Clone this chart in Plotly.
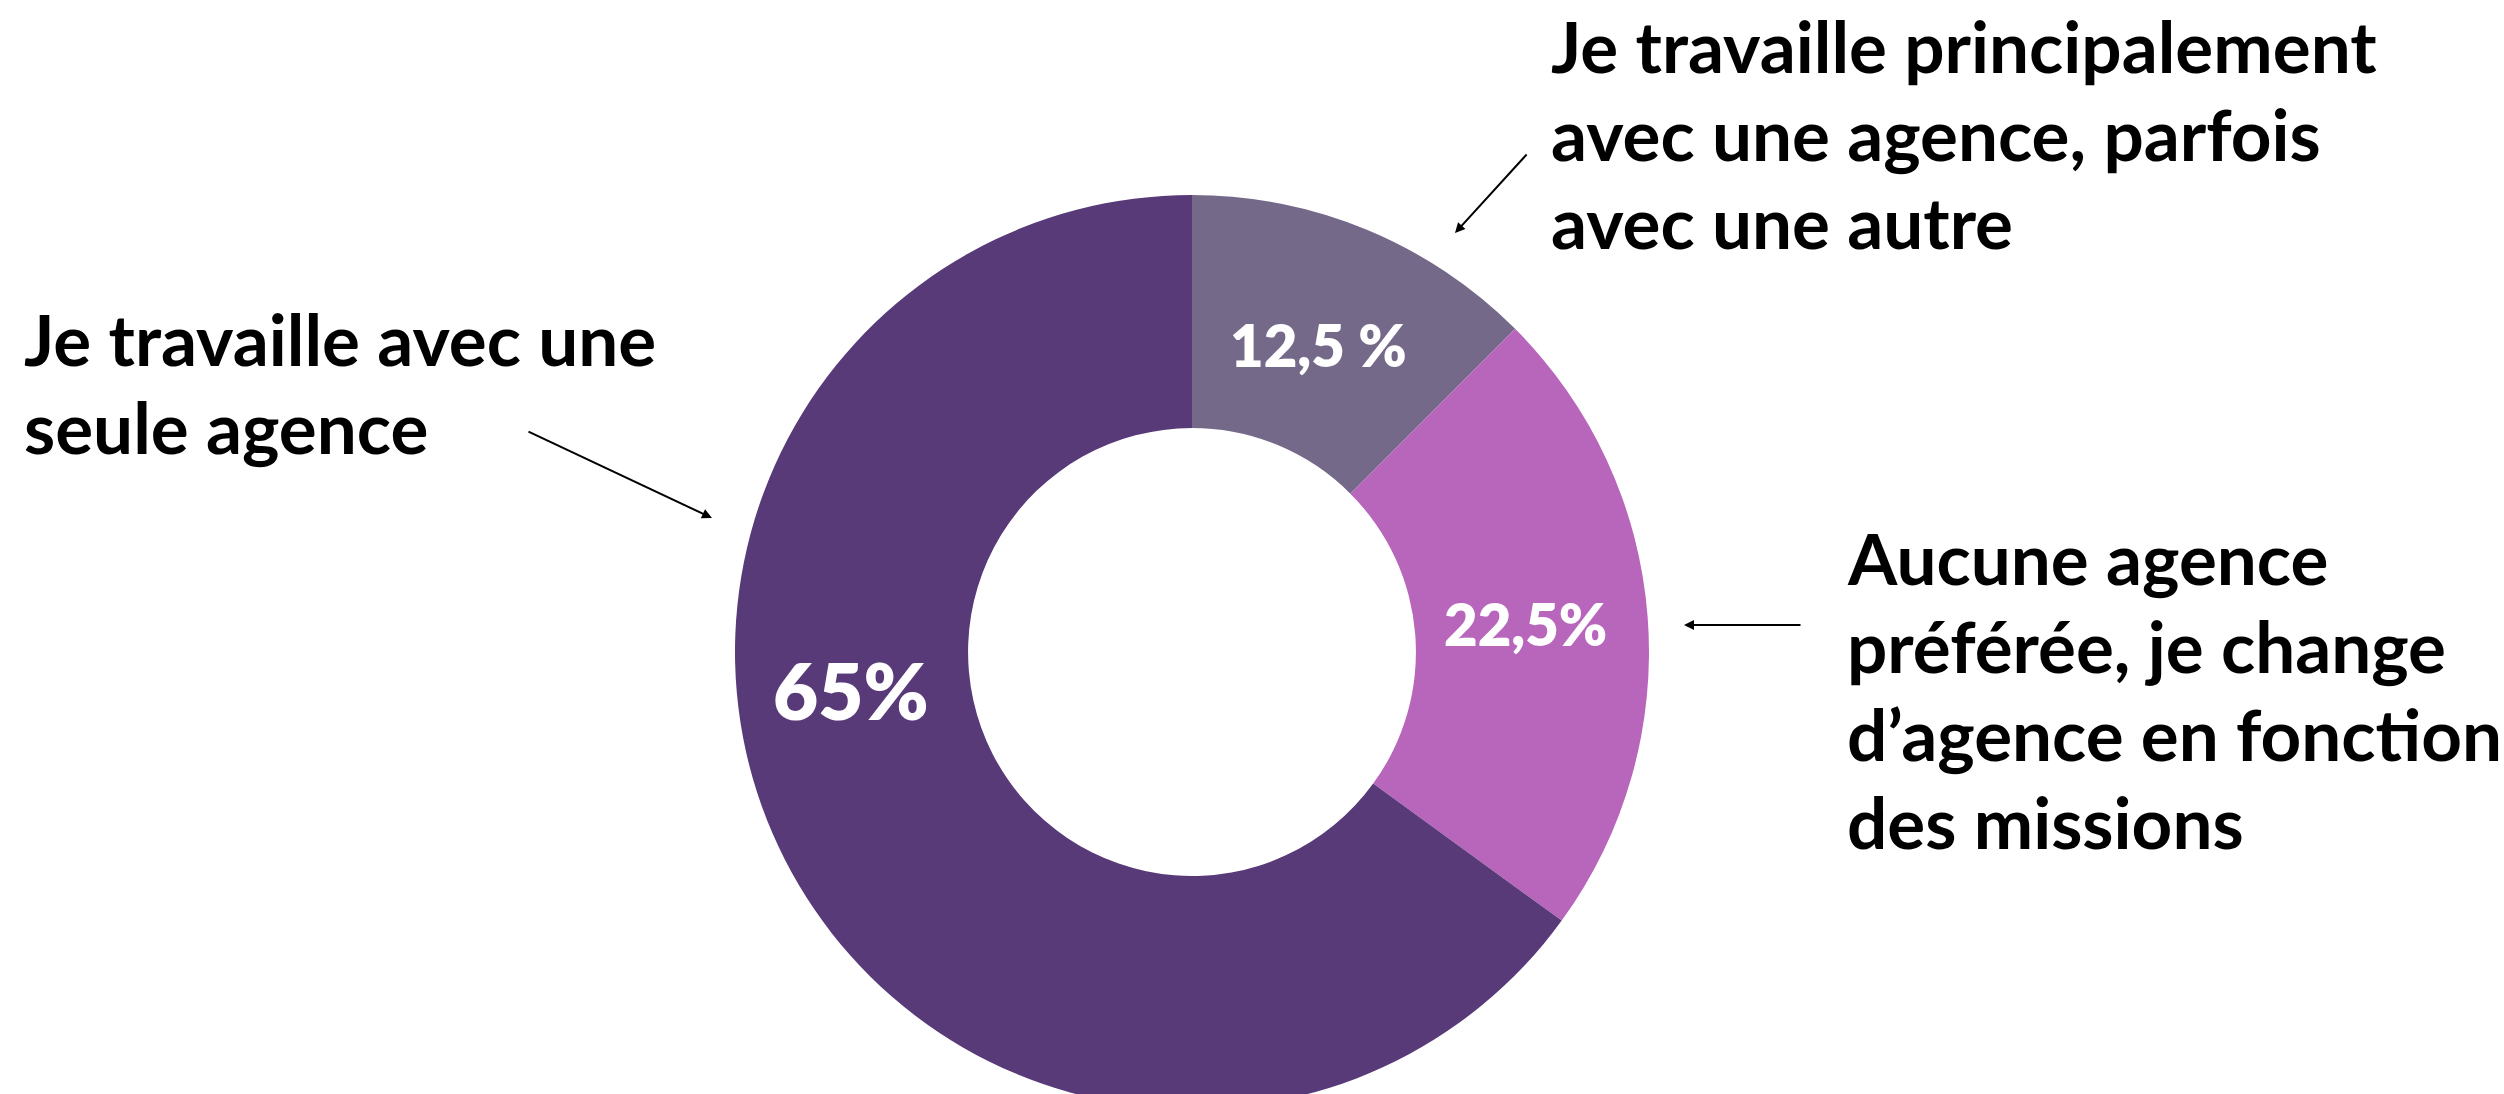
import plotly.graph_objects as go

# Data
labels = [
    "Je travaille principalement<br>avec une agence, parfois<br>avec une autre",
    "Aucune agence<br>préférée, je change<br>d’agence en fonction<br>des missions",
    "Je travaille avec une<br>seule agence",
]
values = [12.5, 22.5, 65]
value_text = ["12,5 %", "22,5%", "65%"]
colors = ["#75698A", "#B866BC", "#573A77"]

W, H = 2504, 1140


def px(x, y):
    # pixel position -> paper coords
    return x / W, 1 - y / H


cx, cy, r = 1192, 652, 457

fig = go.Figure(
    go.Pie(
        labels=labels,
        values=values,
        hole=0.49,
        sort=False,
        direction="clockwise",
        rotation=0,
        marker=dict(colors=colors, line=dict(width=0)),
        textinfo="none",
        hoverinfo="skip",
        showlegend=False,
        domain=dict(
            x=[(cx - r) / W, (cx + r) / W],
            y=[1 - (cy + r) / H, 1 - (cy - r) / H],
        ),
    )
)

# Value labels inside the ring
value_pos = [(1318, 345, 58), (1525, 623, 58), (851, 690, 78)]
for txt, (x, y, size) in zip(value_text, value_pos):
    ax, ay = px(x, y)
    fig.add_annotation(
        x=ax, y=ay, xref="paper", yref="paper",
        text=txt, showarrow=False,
        xanchor="center", yanchor="middle",
        font=dict(family="Lato", size=size, color="white", weight=800),
    )

# Category labels (one annotation per line) with arrows
label_pos = [(1549, 45), (1845, 557), (22, 339)]
line_gap = 88
arrows = [
    ((1528, 153), (1455, 233)),
    ((1802, 625), (1684, 625)),
    ((527, 431), (712, 518)),
]
for lab, (x, y), (start, end) in zip(labels, label_pos, arrows):
    for i, line in enumerate(lab.split("<br>")):
        ax, ay = px(x, y + i * line_gap)
        fig.add_annotation(
            x=ax, y=ay, xref="paper", yref="paper",
            text=line, showarrow=False, align="left",
            xanchor="left", yanchor="middle",
            font=dict(family="Lato", size=71, color="#000000", weight=700),
        )
    ex, ey = px(*end)
    fig.add_annotation(
        x=ex, y=ey, xref="paper", yref="paper",
        ax=start[0] - end[0], ay=start[1] - end[1],
        text="", showarrow=True,
        arrowhead=2, arrowsize=1, arrowwidth=2, arrowcolor="#000000",
    )

fig.update_layout(
    width=W,
    height=H,
    margin=dict(l=0, r=0, t=0, b=0),
    paper_bgcolor="white",
    plot_bgcolor="white",
)

fig.write_html(
    "out.html",
    config={"displayModeBar": False},
    post_script="document.body.style.margin='0';document.body.style.overflow='hidden';",
)
